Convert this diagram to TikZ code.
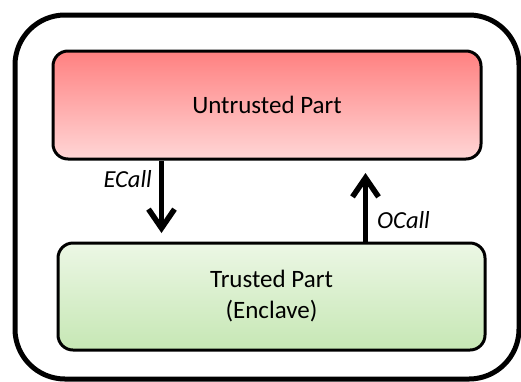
\documentclass[tikz,border=0pt]{standalone}
\usepackage{fontspec}
\setmainfont{Carlito}
\usetikzlibrary{arrows.meta}
\definecolor{redtop}{RGB}{255,128,128}
\definecolor{redbot}{RGB}{255,214,214}
\definecolor{greentop}{RGB}{236,247,229}
\definecolor{greenbot}{RGB}{198,231,180}
\tikzset{
  partbox/.style={draw=black, line width=3pt, rounded corners=15pt,
    align=center, inner sep=0pt, font=\fontsize{25}{31}\selectfont},
  untrusted/.style={partbox, top color=redtop, bottom color=redbot,
    minimum width=428pt, minimum height=108pt},
  trusted/.style={partbox, top color=greentop, bottom color=greenbot,
    minimum width=427pt, minimum height=107pt},
  callarrow/.style={line width=5.5pt,
    -{Straight Barb[length=19pt,width=26pt]}},
  calllabel/.style={font=\fontsize{24.5}{28}\selectfont\itshape, inner sep=0pt}
}
\begin{document}
\begin{tikzpicture}[x=1pt, y=-1pt]
  \useasboundingbox (0,0) rectangle (521,381);
  % enclosing application
  \draw[line width=5pt, rounded corners=50pt] (15,15) rectangle (519,379);
  % the two parts
  \node[untrusted] (u) at (267,105) {Untrusted Part};
  \node[trusted] (t) at (271.5,296.5) {Trusted Part\\(Enclave)};
  % arrow ends
  \coordinate (etip) at (161.5,233);
  \coordinate (otip) at (365.5,173);
  % calls between the parts
  \draw[callarrow] (u.south -| etip) -- (etip);
  \draw[callarrow] (t.north -| otip) -- (otip);
  \node[calllabel, anchor=base east] (el) at (152,187) {ECall};
  \node[calllabel, anchor=base west] (ol) at (377,228) {OCall};
\end{tikzpicture}
\end{document}
